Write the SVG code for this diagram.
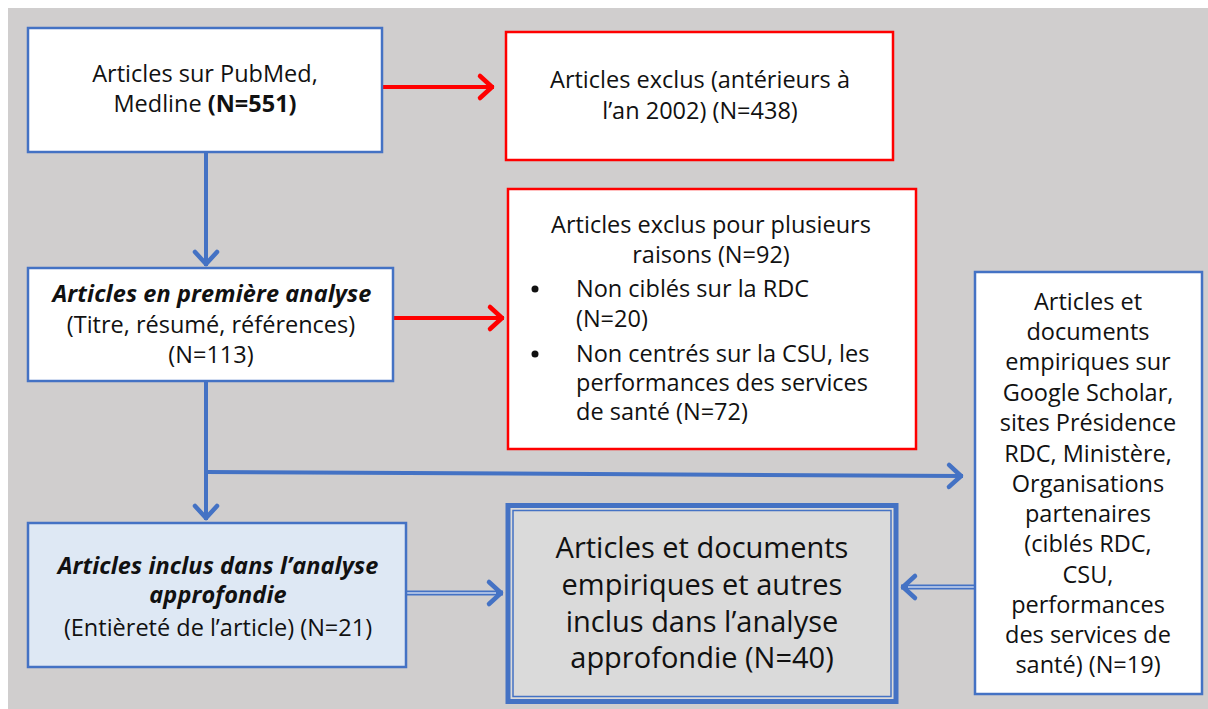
<svg xmlns="http://www.w3.org/2000/svg" width="1208" height="709" viewBox="0 0 1208 709">
<style>
text{font-family:"Open Sans","Liberation Sans",sans-serif;font-size:23.5px;fill:#111;}
.c{text-anchor:middle;}
.bi{font-weight:bold;font-style:italic;letter-spacing:0.1px;}
.b{font-weight:bold;}
.big{font-size:29px;}
.blue{fill:#fff;stroke:#4472C4;stroke-width:2.5;}
.red{fill:#fff;stroke:#FF0000;stroke-width:2.5;}
.ab{stroke:#4472C4;stroke-width:4;fill:none;}
.ar{stroke:#FF0000;stroke-width:4;fill:none;}
</style>
<defs>
<marker id="hb" markerUnits="userSpaceOnUse" markerWidth="30" markerHeight="30" refX="2" refY="0" viewBox="-16 -15 20 30" orient="auto" overflow="visible">
<path d="M-12,-11 L0,0 L-12,11" fill="none" stroke="#4472C4" stroke-width="4.5" stroke-linecap="round" stroke-linejoin="round"/>
</marker>
<marker id="hr" markerUnits="userSpaceOnUse" markerWidth="30" markerHeight="30" refX="2" refY="0" viewBox="-16 -15 20 30" orient="auto" overflow="visible">
<path d="M-12,-11 L0,0 L-12,11" fill="none" stroke="#FF0000" stroke-width="4.5" stroke-linecap="round" stroke-linejoin="round"/>
</marker>
</defs>
<rect x="8" y="8" width="1200" height="701" fill="#D0CECE"/>

<g id="connectors">
<line class="ab" x1="206" y1="153" x2="206" y2="266" marker-end="url(#hb)"/>
<line class="ar" x1="383" y1="87" x2="494" y2="87" marker-end="url(#hr)"/>
<line class="ar" x1="394" y1="318" x2="504" y2="318" marker-end="url(#hr)"/>
<line class="ab" x1="206" y1="382" x2="206" y2="520" marker-end="url(#hb)"/>
<line class="ab" x1="206" y1="472" x2="963" y2="476" marker-end="url(#hb)"/>
<line x1="407" y1="593" x2="503" y2="593" stroke="#4472C4" stroke-width="5" marker-end="url(#hb)"/>
<line x1="407" y1="593" x2="496" y2="593" stroke="#C9D6EE" stroke-width="1.5"/>
<line x1="974" y1="587" x2="901" y2="587" stroke="#4472C4" stroke-width="5" marker-end="url(#hb)"/>
<line x1="974" y1="587" x2="908" y2="587" stroke="#C9D6EE" stroke-width="1.5"/>
</g>

<g id="n1">
<rect class="blue" x="28" y="28" width="354" height="124"/>
<text class="c" x="205" y="82">Articles sur PubMed,</text>
<text class="c" x="205" y="112">Medline <tspan class="b">(N=551)</tspan></text>
</g>

<g id="n2">
<rect class="red" x="506" y="32" width="387" height="128"/>
<text class="c" x="700" y="88">Articles exclus (antérieurs à</text>
<text class="c" x="700" y="119">l’an 2002) (N=438)</text>
</g>

<g id="n3">
<rect class="blue" x="28" y="268" width="365" height="113"/>
<text class="c bi" x="212" y="302">Articles en première analyse</text>
<text class="c" x="211" y="333">(Titre, résumé, références)</text>
<text class="c" x="211" y="363">(N=113)</text>
</g>

<g id="n4">
<rect class="red" x="508" y="189" width="408" height="260"/>
<text class="c" x="711" y="233">Articles exclus pour plusieurs</text>
<text class="c" x="711" y="263">raisons (N=92)</text>
<circle cx="535" cy="289" r="3.5" fill="#111"/>
<text x="576" y="297">Non ciblés sur la RDC</text>
<text x="576" y="327">(N=20)</text>
<circle cx="535" cy="354" r="3.5" fill="#111"/>
<text x="576" y="362">Non centrés sur la CSU, les</text>
<text x="576" y="391">performances des services</text>
<text x="576" y="420">de santé (N=72)</text>
</g>

<g id="n5">
<rect class="blue" x="975" y="272" width="227" height="422"/>
<text class="c" x="1088" y="310">Articles et</text>
<text class="c" x="1088" y="340">documents</text>
<text class="c" x="1088" y="370">empiriques sur</text>
<text class="c" x="1088" y="401">Google Scholar,</text>
<text class="c" x="1088" y="431">sites Présidence</text>
<text class="c" x="1088" y="462">RDC, Ministère,</text>
<text class="c" x="1088" y="492">Organisations</text>
<text class="c" x="1088" y="522">partenaires</text>
<text class="c" x="1088" y="552">(ciblés RDC,</text>
<text class="c" x="1088" y="583">CSU,</text>
<text class="c" x="1088" y="613">performances</text>
<text class="c" x="1088" y="643">des services de</text>
<text class="c" x="1088" y="673">santé) (N=19)</text>
</g>

<g id="n6">
<rect x="28" y="523" width="378" height="144" fill="#DEE8F4" stroke="#4472C4" stroke-width="2.5"/>
<text class="c bi" x="218" y="574">Articles inclus dans l’analyse</text>
<text class="c bi" x="218" y="603">approfondie</text>
<text class="c" x="218" y="636">(Entièreté de l’article) (N=21)</text>
</g>

<g id="n7">
<rect x="508" y="505.5" width="388" height="196" fill="#DADADA" stroke="#4472C4" stroke-width="5"/>
<rect x="513" y="510.5" width="378" height="186" fill="none" stroke="#4472C4" stroke-width="1.5"/>
<text class="c big" x="702" y="558">Articles et documents</text>
<text class="c big" x="702" y="595">empiriques et autres</text>
<text class="c big" x="702" y="632">inclus dans l’analyse</text>
<text class="c big" x="702" y="668">approfondie (N=40)</text>
</g>
</svg>
